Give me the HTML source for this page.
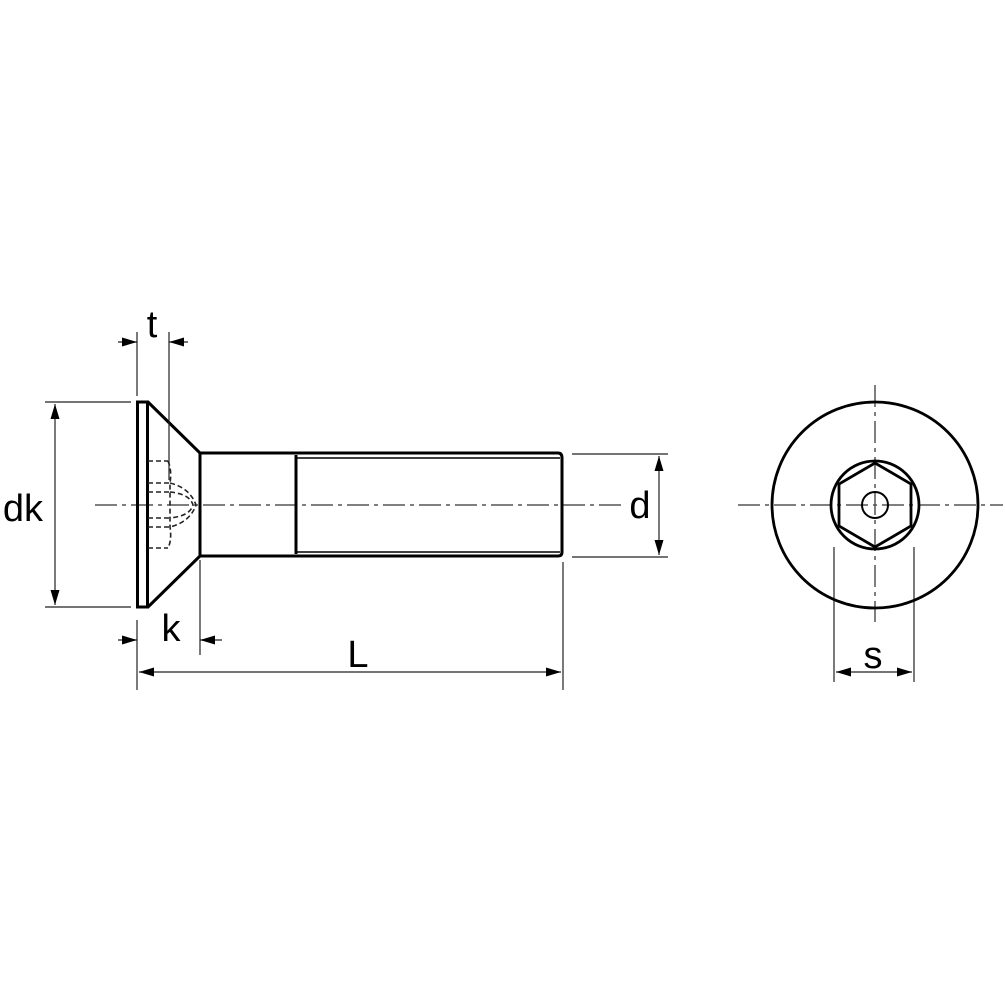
<!DOCTYPE html>
<html><head><style>html,body{margin:0;padding:0;background:#fff}svg{display:block}</style></head>
<body>
<svg width="1005" height="1005" viewBox="0 0 1005 1005" xmlns="http://www.w3.org/2000/svg">
<defs>
<marker id="a" viewBox="0 0 10 6" refX="10" refY="3" markerWidth="18" markerHeight="9" markerUnits="userSpaceOnUse" orient="auto-start-reverse"><path d="M0,0L10,3L0,6z" fill="#000"/></marker>
</defs>
<rect width="1005" height="1005" fill="#fff"/>
<g fill="none" stroke="#000">
<line x1="95" y1="505" x2="622" y2="505" stroke="#555" stroke-width="1.5" stroke-dasharray="22,5,4,5"/>
<line x1="738" y1="505" x2="1003" y2="505" stroke="#555" stroke-width="1.5" stroke-dasharray="22,5,4,5"/>
<line x1="875" y1="385" x2="875" y2="622" stroke="#555" stroke-width="1.5" stroke-dasharray="22,5,4,5"/>
<g stroke-width="3">
<rect x="137.5" y="402" width="10" height="205"/>
<path d="M148,402 L200,453 L200,556 L148,607"/>
<path d="M200,453 H558 Q562,453 562,458 V552 Q562,556 558,556 H200"/>
<line x1="296" y1="455" x2="296" y2="554"/>
</g>
<line x1="296" y1="458" x2="560" y2="458" stroke-width="1.5"/>
<line x1="296" y1="552" x2="560" y2="552" stroke-width="1.5"/>
<g stroke-width="1.6" stroke-dasharray="5,3" stroke="#222">
<line x1="148" y1="461" x2="168" y2="461"/>
<line x1="148" y1="483" x2="170" y2="483"/>
<line x1="148" y1="492" x2="170" y2="492"/>
<line x1="148" y1="518" x2="170" y2="518"/>
<line x1="148" y1="527" x2="170" y2="527"/>
<line x1="148" y1="548" x2="168" y2="548"/>
<path d="M168,461 Q172,470 170,483 V527 Q172,540 168,548"/>
<path d="M170,483 Q190,488 196,505 Q190,522 170,527"/>
<path d="M170,492 Q190,494 193,505 Q190,516 170,518"/>
</g>
<g stroke-width="1.2" stroke="#222">
<line x1="45" y1="402" x2="131" y2="402"/>
<line x1="45" y1="607" x2="131" y2="607"/>
<line x1="55" y1="404" x2="55" y2="605" marker-start="url(#a)" marker-end="url(#a)"/>
<line x1="137" y1="332" x2="137" y2="396"/>
<line x1="169" y1="332" x2="169" y2="480"/>
<line x1="118" y1="342" x2="137" y2="342" marker-end="url(#a)"/>
<line x1="188" y1="342" x2="169" y2="342" marker-end="url(#a)"/>
<line x1="137" y1="620" x2="137" y2="690"/>
<line x1="200" y1="560" x2="200" y2="655"/>
<line x1="118" y1="640" x2="137" y2="640" marker-end="url(#a)"/>
<line x1="222" y1="640" x2="200" y2="640" marker-end="url(#a)"/>
<line x1="139" y1="672" x2="561" y2="672" marker-start="url(#a)" marker-end="url(#a)"/>
<line x1="563" y1="562" x2="563" y2="690"/>
<line x1="572" y1="454" x2="668" y2="454"/>
<line x1="572" y1="557" x2="668" y2="557"/>
<line x1="659" y1="456" x2="659" y2="555" marker-start="url(#a)" marker-end="url(#a)"/>
<line x1="834" y1="547" x2="834" y2="682"/>
<line x1="914" y1="547" x2="914" y2="682"/>
<line x1="836" y1="672" x2="912" y2="672" marker-start="url(#a)" marker-end="url(#a)"/>
</g>
<g stroke-width="2.8">
<circle cx="875" cy="505" r="103"/>
<circle cx="875" cy="505" r="44"/>
<polygon points="875,463 911,484 911,526 875,547 839,526 839,484"/>
</g>
<circle cx="875" cy="505" r="13" stroke-width="2"/>
</g>
<g font-family="Liberation Sans, sans-serif" font-size="38" fill="#000" text-anchor="middle">
<text x="23" y="521">dk</text>
<text x="152" y="337">t</text>
<text x="171" y="641">k</text>
<text x="358" y="667">L</text>
<text x="640" y="518">d</text>
<text x="873" y="668">s</text>
</g>
</svg>
</body></html>
